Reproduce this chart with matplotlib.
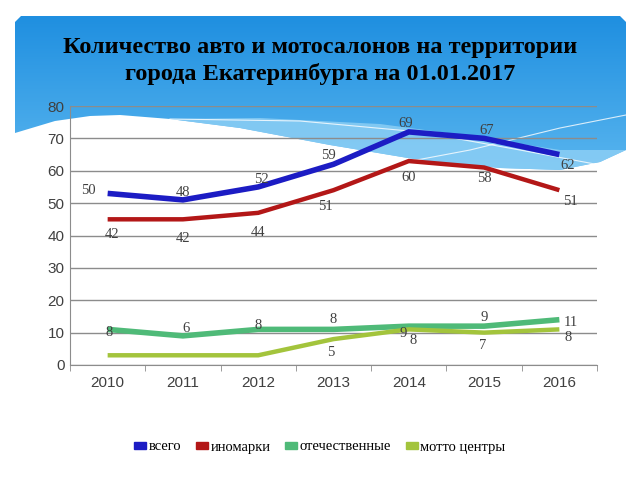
import numpy as np
import matplotlib.pyplot as plt
from matplotlib.patches import PathPatch
from matplotlib.path import Path
from matplotlib.colors import LinearSegmentedColormap

# Data
years = ['2010', '2011', '2012', '2013', '2014', '2015', '2016']
vsego = [53, 51, 55, 62, 72, 70, 65]
inomarki = [45, 45, 47, 54, 63, 61, 54]
otech = [11, 9, 11, 11, 12, 12, 14]
motto = [3, 3, 3, 8, 11, 10, 11]

# data labels as printed on the chart
vsego_lbl = ['50', '48', '52', '59', '69', '67', '62']
inomarki_lbl = ['42', '42', '44', '51', '60', '58', '51']
otech_lbl = ['8', '6', '8', '8', '9', '9', '11']
motto_lbl = ['', '', '', '5', '8', '7', '8']

names = ['всего', 'иномарки', 'отечественные', 'мотто центры']
colors = ['#1c1cc4', '#b31717', '#4fba78', '#a3c43c']

W, H = 640, 480
fig = plt.figure(figsize=(6.4, 4.8), dpi=100)
fig.patch.set_facecolor('white')

# background banner, pixel coordinates
bg = fig.add_axes([0, 0, 1, 1], zorder=0)
bg.set_xlim(0, W)
bg.set_ylim(H, 0)
bg.axis('off')

outline = [(15, 133), (15, 22), (21, 16), (620, 16), (626, 22), (626, 150)]
bottom = [(600, 162), (560, 170), (500, 168), (420, 160), (330, 145),
          (240, 128), (170, 119), (120, 115), (90, 116), (55, 121), (15, 133)]
banner = PathPatch(Path(outline + bottom), facecolor='none', edgecolor='none')
bg.add_patch(banner)
grad = np.linspace(0, 1, 256).reshape(-1, 1)
cmap = LinearSegmentedColormap.from_list('b', ['#1f8fe0', '#5ab6ef'])
im = bg.imshow(grad, cmap=cmap, extent=(0, W, 175, 16), aspect='auto', zorder=1)
im.set_clip_path(banner)

# lighter wave band
band = [(170, 119), (260, 118), (380, 124), (470, 136), (560, 150), (626, 150),
        (600, 162), (560, 170), (500, 168), (420, 160), (330, 145), (240, 128)]
bg.add_patch(PathPatch(Path(band + [(170, 119)]), facecolor='#8fd0f5',
                       edgecolor='none', alpha=0.8, zorder=2))
bg.plot([170, 300, 420, 520, 600], [119, 121, 132, 150, 165],
        color='white', lw=0.8, alpha=0.8, zorder=3)
bg.plot([390, 470, 560, 626], [165, 150, 128, 115],
        color='white', lw=0.8, alpha=0.8, zorder=3)

title_kw = dict(ha='center', va='center', fontsize=17.5, fontweight='bold',
                family='Liberation Serif', color='black')
fig.text(0.5, 1 - 47 / H, 'Количество авто и мотосалонов на территории', **title_kw)
fig.text(0.5, 1 - 74 / H, 'города Екатеринбурга на 01.01.2017', **title_kw)

ax = fig.add_axes([70 / W, 1 - 365 / H, 527 / W, 259 / H], zorder=5)
ax.patch.set_alpha(0)
x = np.arange(len(years))
series = [vsego, inomarki, otech, motto]
widths = [4, 3.2, 4, 3.2]
for s, c, lw in zip(series, colors, widths):
    ax.plot(x, s, color=c, lw=lw, solid_capstyle='butt', solid_joinstyle='miter')

ax.set_xlim(-0.5, 6.5)
ax.set_ylim(0, 80)
ax.set_yticks(range(0, 81, 10))
ax.yaxis.grid(True, color='#8c8c8c', lw=1)
ax.set_axisbelow(True)
ax.set_xticks(x)
ax.set_xticklabels(years)
ax.set_xticks(np.arange(-0.5, 7, 1), minor=True)
ax.tick_params(axis='x', which='major', length=0, pad=8)
ax.tick_params(axis='x', which='minor', length=4, color='#8c8c8c')
ax.tick_params(axis='y', length=0, pad=4)
for lab in ax.get_xticklabels() + ax.get_yticklabels():
    lab.set_family('Liberation Sans')
    lab.set_fontsize(11)
    lab.set_color('#404040')
for sp in ['top', 'right']:
    ax.spines[sp].set_visible(False)
ax.spines['left'].set_color('#8c8c8c')
ax.spines['bottom'].set_color('#8c8c8c')

# data label offsets (points)
offs = {
    0: [(-14, 2), (0, 5), (2, 5), (-4, 6), (-2, 6), (2, 6), (6, -8)],
    1: [(3, -11), (0, -14), (0, -14), (-6, -12), (0, -12), (0, -8), (8, -8)],
    2: [(1, -2), (2, 5), (0, 3), (0, 7), (-4, -5), (0, 6), (8, -2)],
    3: [(0, 0), (0, 0), (0, 0), (-2, -10), (3, -8), (-1, -9), (6, -6)],
}
labels = [vsego_lbl, inomarki_lbl, otech_lbl, motto_lbl]
for i, (s, lbls) in enumerate(zip(series, labels)):
    for j, t in enumerate(lbls):
        if not t:
            continue
        ax.annotate(t, (x[j], s[j]), xytext=offs[i][j], textcoords='offset points',
                    ha='center', va='center', fontsize=10.5,
                    family='Liberation Serif', color='#404040')

# legend
handles = [plt.Rectangle((0, 0), 1, 1, color=c) for c in colors]
fig.legend(handles, names, loc='center', bbox_to_anchor=(0.5, 1 - 447 / H),
           ncol=4, frameon=False, prop={'family': 'Liberation Serif', 'size': 10.5},
           handlelength=0.8, handleheight=0.4, handletextpad=0.2, columnspacing=1.0)

fig.savefig('out.png', dpi=100)
